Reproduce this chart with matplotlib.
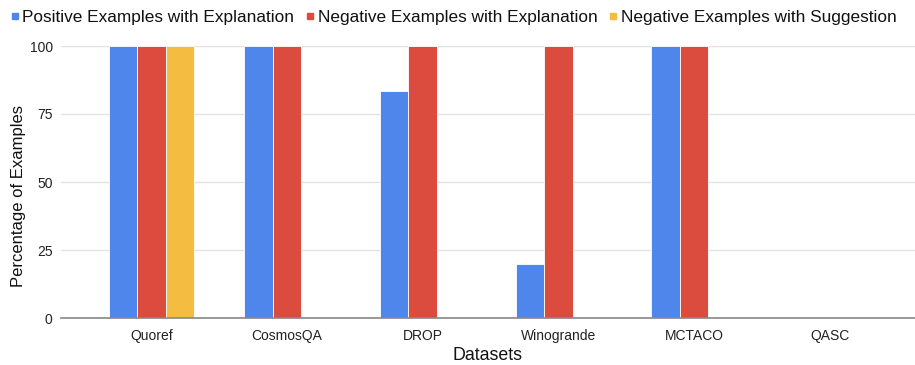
import matplotlib
matplotlib.use('Agg')
import matplotlib.pyplot as plt
import numpy as np
from matplotlib.lines import Line2D

datasets = ['Quoref', 'CosmosQA', 'DROP', 'Winogrande', 'MCTACO', 'QASC']
series_names = ['Positive Examples with Explanation',
                'Negative Examples with Explanation',
                'Negative Examples with Suggestion']
pos_explained = [100, 100, 83.33, 20, 100, 0]
neg_explained = [100, 100, 100, 100, 100, 0]
neg_suggested = [100, 0, 0, 0, 0, 0]
y_ticks = [0, 25, 50, 75, 100]

colors = ['#4f86ec', '#db4c3f', '#f4bd42']

plt.rcParams['font.family'] = ['Liberation Sans', 'DejaVu Sans']

fig = plt.figure(figsize=(9.15, 3.65), dpi=100)
ax = fig.add_axes([61 / 915, 47 / 365, 854 / 915, 272 / 365])

x = np.arange(len(datasets))
width = 0.21
for k, (vals, col) in enumerate(zip([pos_explained, neg_explained, neg_suggested], colors)):
    ax.bar(x + (k - 1) * width, vals, width, color=col, edgecolor='white',
           linewidth=0.6, zorder=3)

ax.set_xlim(-0.667, 5.63)
ax.set_ylim(0, 100)
ax.set_yticks(y_ticks)
ax.set_xticks(x)
ax.set_xticklabels(datasets)
ax.tick_params(axis='both', length=0, labelsize=10, colors='#222222')
ax.tick_params(axis='y', pad=6)
ax.tick_params(axis='x', pad=8)
ax.grid(axis='y', color='#e2e2e2', linewidth=1, zorder=0)
for side in ['top', 'right', 'left']:
    ax.spines[side].set_visible(False)
ax.spines['bottom'].set_color('#888888')
ax.spines['bottom'].set_linewidth(1.2)
ax.spines['bottom'].set_zorder(4)

ax.set_xlabel('Datasets', fontsize=12.8, color='#111111', labelpad=3)
fig.text(19 / 915, 1 - 196 / 365, 'Percentage of Examples', rotation=90,
         ha='center', va='center', fontsize=12, color='#111111')

handles = [Line2D([0], [0], marker='s', linestyle='none', markersize=5,
                  markerfacecolor=c, markeredgecolor=c) for c in colors]
fig.legend(handles, series_names, loc='upper center', bbox_to_anchor=(0.494, 1.014),
           ncol=3, frameon=False, fontsize=12.4, handletextpad=0.05,
           columnspacing=0.5, handlelength=0.8, labelcolor='#111111')

fig.savefig('out.png', dpi=100)
